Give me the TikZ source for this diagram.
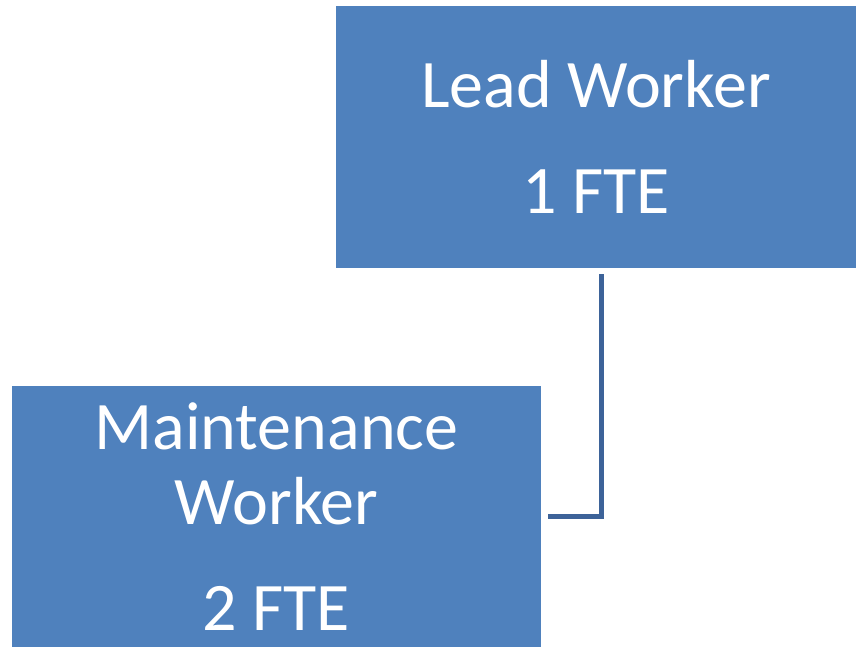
\documentclass[tikz,border=0pt]{standalone}
\usepackage{fontspec}
\setmainfont{Carlito}
\usepackage{tikz}
\usetikzlibrary{positioning}
\definecolor{boxblue}{HTML}{4F81BD}
\definecolor{lineblue}{HTML}{3D6399}

\begin{document}
\begin{tikzpicture}[
  x=1pt, y=-1pt,
  post/.style={fill=boxblue,text=white,align=center,inner sep=0pt,
    font=\fontsize{68}{75}\selectfont},
  link/.style={draw=lineblue,line width=5pt}
]
  \useasboundingbox (0,0) rectangle (856,647);
  \node[post,minimum width=520pt,minimum height=262pt] (lead) at (596,137)
    {Lead Worker\\[31pt]1 FTE};
  \node[post,minimum width=529pt,minimum height=261pt] (maint) at (276.5,516.5)
    {Maintenance\\Worker\\[31pt]2 FTE};
  \draw[link,shorten <=6pt,shorten >=7pt] ([xshift=5pt]lead.south) |- (maint.east);
\end{tikzpicture}
\end{document}
